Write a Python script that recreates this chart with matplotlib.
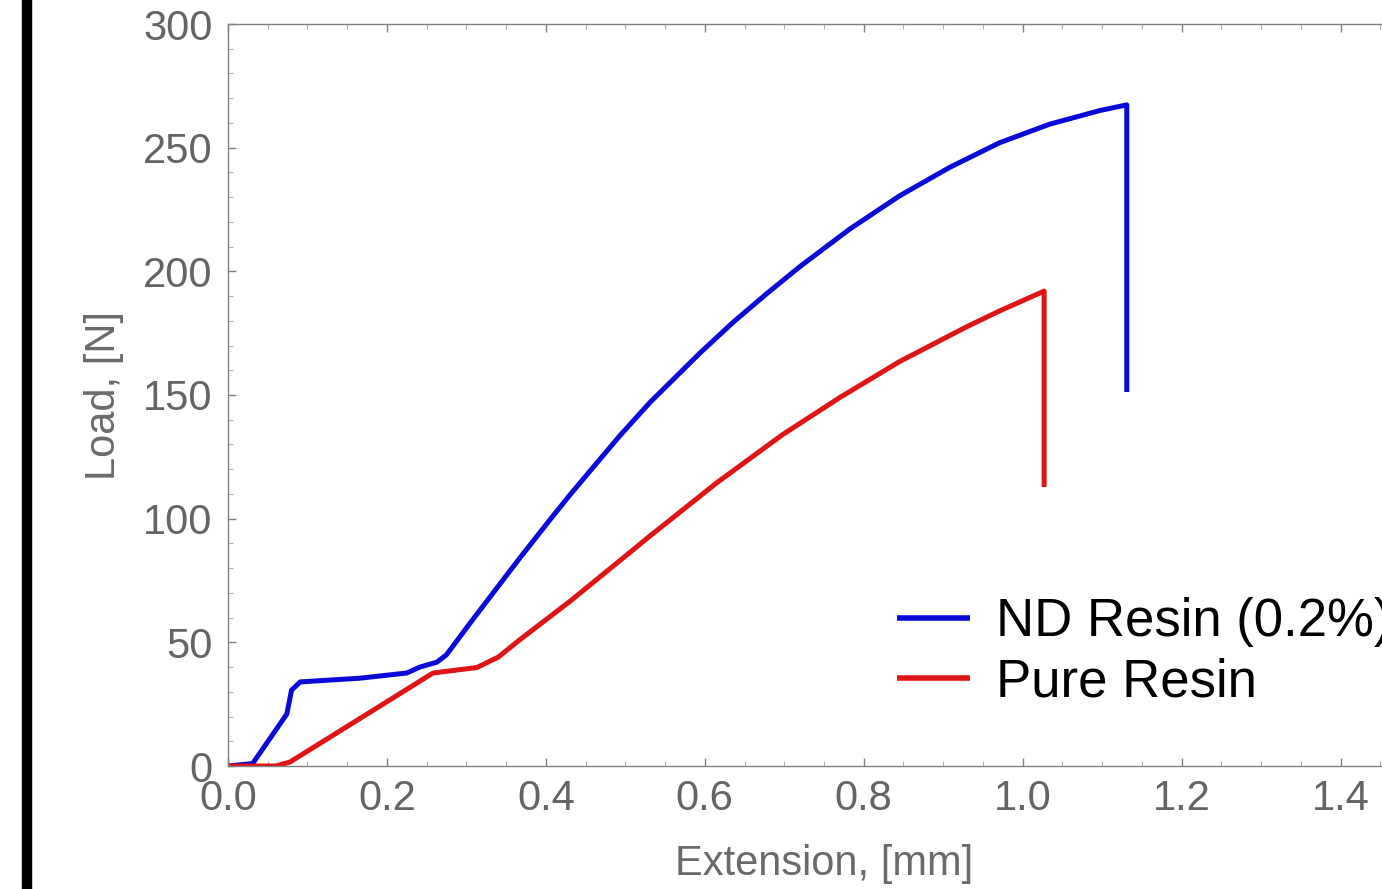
import matplotlib
matplotlib.use("Agg")
import matplotlib.pyplot as plt
from matplotlib.ticker import MultipleLocator
from matplotlib.lines import Line2D

plt.rcParams['font.family'] = ['Liberation Sans', 'DejaVu Sans']

# ND Resin (0.2%) : extension [mm], load [N]
nd_ext = [0.0, 0.031, 0.074, 0.080, 0.091, 0.166, 0.225, 0.2415, 0.263, 0.275,
          0.304, 0.342, 0.367, 0.405, 0.430, 0.468, 0.493, 0.531, 0.594, 0.636,
          0.678, 0.720, 0.782, 0.845, 0.908, 0.971, 1.034, 1.097, 1.131, 1.131]
nd_load = [0.0, 1.0, 21.0, 30.7, 34.0, 35.5, 37.6, 40.0, 42.0, 45.0,
           57.5, 73.5, 84.0, 99.5, 109.5, 124.0, 133.5, 147.0, 167.0, 179.5,
           191.0, 202.0, 217.0, 230.5, 242.0, 252.0, 259.5, 265.0, 267.3, 151.2]

# Pure Resin
pure_ext = [0.0, 0.060, 0.078, 0.170, 0.258, 0.313, 0.340, 0.367, 0.430, 0.493,
            0.531, 0.615, 0.698, 0.770, 0.845, 0.929, 0.971, 1.027, 1.027]
pure_load = [0.0, 0.0, 1.6, 20.0, 37.6, 39.8, 44.0, 51.0, 66.5, 83.0,
             93.0, 114.5, 134.0, 149.0, 163.5, 177.5, 184.0, 192.0, 112.8]

series_labels = ["ND Resin (0.2%)", "Pure Resin"]
series_colors = ["#0a0ad8", "#e01414"]

fig = plt.figure(figsize=(13.82, 8.89), dpi=100)
ax = fig.add_axes([228/1382, 123/889, 1192/1382, 742/889])

ax.plot(nd_ext, nd_load, color=series_colors[0], lw=3.6, label=series_labels[0],
        solid_joinstyle='round', solid_capstyle='butt')
ax.plot(pure_ext, pure_load, color=series_colors[1], lw=3.6, label=series_labels[1],
        solid_joinstyle='round', solid_capstyle='butt')

ax.set_xlim(0, 1.5)
ax.set_ylim(0, 300)
ax.xaxis.set_minor_locator(MultipleLocator(0.05))
ax.yaxis.set_major_locator(MultipleLocator(50))
ax.yaxis.set_minor_locator(MultipleLocator(10))
ax.set_xticks([0, 0.2, 0.4, 0.6, 0.8, 1.0, 1.2, 1.4])
ax.set_xticklabels(["0.0", "0.2", "0.4", "0.6", "0.8", "1.0", "1.2", "1.4"])

tick_col = "#646464"
for s in ax.spines.values():
    s.set_color("#808080")
    s.set_linewidth(1.0)
ax.tick_params(which='both', direction='in', top=True, right=True, colors="#808080",
               labelcolor=tick_col, labelsize=30)
ax.tick_params(which='major', length=6, width=1.0)
ax.tick_params(which='minor', length=3.5, width=0.8, colors="#b0b0b0")
ax.tick_params(axis='y', which='major', pad=11)
ax.tick_params(axis='x', which='major', pad=9)

ax.set_xlabel("Extension, [mm]", fontsize=30, color="#6a6a6a", labelpad=18)
ax.set_ylabel("Load, [N]", fontsize=30, color="#6a6a6a", labelpad=14)

leg = ax.legend(loc='upper left', bbox_to_anchor=(897/1382, (889-597)/889),
                bbox_transform=fig.transFigure, frameon=False, fontsize=38,
                handlelength=1.38, handletextpad=0.5, labelspacing=0.2,
                borderpad=0, borderaxespad=0)
for t in leg.get_texts():
    t.set_color("black")
for h in leg.get_lines():
    h.set_linewidth(4.0)

# black vertical bar at left edge of the picture
fig.add_artist(Line2D([27/1382, 27/1382], [0, 1], transform=fig.transFigure,
                      color="black", lw=7.5))

fig.savefig("out.png", dpi=100)
